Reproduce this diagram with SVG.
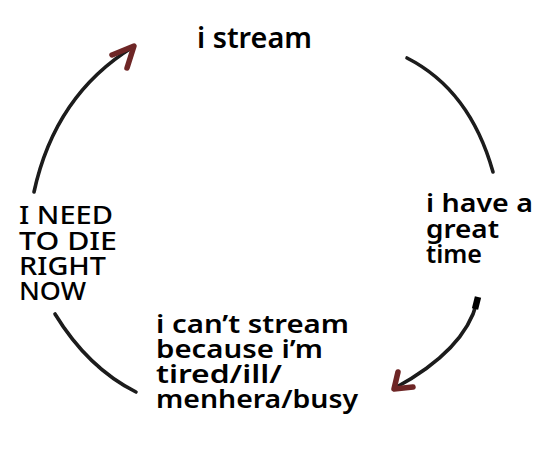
<svg xmlns="http://www.w3.org/2000/svg" width="540" height="461" viewBox="0 0 540 461">
<defs>
<filter id="soft" x="-20%" y="-20%" width="140%" height="140%"><feGaussianBlur stdDeviation="0.7"/></filter>
</defs>
<style>
.t{font-family:"Noto Sans","DejaVu Sans",sans-serif;font-weight:600;fill:#000;}
.lc{font-size:26px;}
.uc{font-size:25px;font-weight:500;}
.arc{fill:none;stroke:#1a1a1a;stroke-width:3.6;stroke-linecap:round;}
.head{fill:none;stroke:#6e2626;stroke-width:5.5;stroke-linecap:round;stroke-linejoin:round;}
</style>
<rect width="540" height="461" fill="#ffffff"/>
<g id="connectors" filter="url(#soft)">
<path class="arc" d="M34,192 Q55,95 133,47"/>
<path class="head" d="M112,55 L134,46 L127,68"/>
<path class="arc" d="M407,58 Q470,90 493,172"/>
<path class="arc" d="M477,302 Q465,350 395,388"/>
<path d="M478,297 L475,309" stroke="#000" stroke-width="6.5" fill="none"/>
<path class="head" d="M398,372 L394,389 L413,387"/>
<path class="arc" d="M55,314 Q88,368 136,392"/>
</g>
<g id="node-stream">
<text class="t" x="197" y="48" font-size="29" textLength="115" lengthAdjust="spacingAndGlyphs">i stream</text>
</g>
<g id="node-great-time">
<text class="t lc" x="426" y="212" textLength="107" lengthAdjust="spacingAndGlyphs">i have a</text>
<text class="t lc" x="426" y="238" textLength="73" lengthAdjust="spacingAndGlyphs">great</text>
<text class="t lc" x="426" y="263" textLength="56" lengthAdjust="spacingAndGlyphs">time</text>
</g>
<g id="node-cant-stream">
<text class="t lc" x="156" y="333" textLength="193" lengthAdjust="spacingAndGlyphs">i can’t stream</text>
<text class="t lc" x="156" y="358" textLength="167" lengthAdjust="spacingAndGlyphs">because i’m</text>
<text class="t lc" x="156" y="383" textLength="126" lengthAdjust="spacingAndGlyphs">tired/ill/</text>
<text class="t lc" x="156" y="408" textLength="202" lengthAdjust="spacingAndGlyphs">menhera/busy</text>
</g>
<g id="node-die">
<text class="t uc" x="19" y="224" textLength="94" lengthAdjust="spacingAndGlyphs">I NEED</text>
<text class="t uc" x="19" y="250" textLength="98" lengthAdjust="spacingAndGlyphs">TO DIE</text>
<text class="t uc" x="19" y="275" textLength="87" lengthAdjust="spacingAndGlyphs">RIGHT</text>
<text class="t uc" x="19" y="300" textLength="67" lengthAdjust="spacingAndGlyphs">NOW</text>
</g>
</svg>
